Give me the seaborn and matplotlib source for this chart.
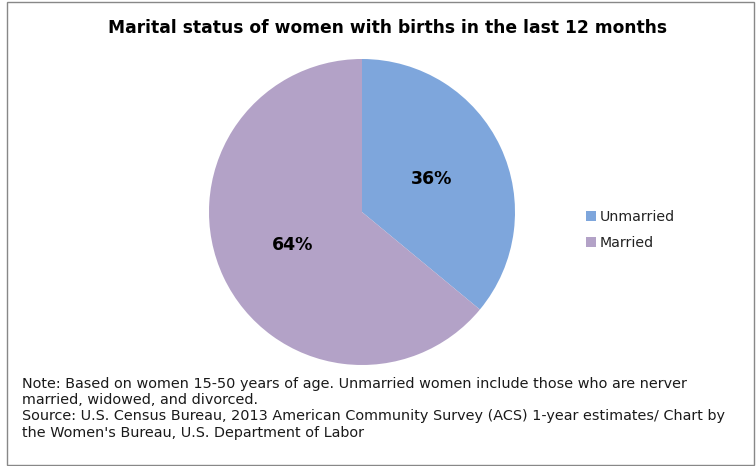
import matplotlib
matplotlib.use("Agg")
import matplotlib.pyplot as plt
import seaborn as sns
from matplotlib.patches import Rectangle

sns.set_theme(style="white")
plt.rcParams['font.family'] = ['DejaVu Sans']

# data
labels = ["Unmarried", "Married"]
shares = [36, 64]
colors = ["#7EA6DC", "#B3A2C7"]

title = "Marital status of women with births in the last 12 months"
note = ("Note: Based on women 15-50 years of age. Unmarried women include those who are nerver\n"
        "married, widowed, and divorced.\n"
        "Source: U.S. Census Bureau, 2013 American Community Survey (ACS) 1-year estimates/ Chart by\n"
        "the Women's Bureau, U.S. Department of Labor")

fig = plt.figure(figsize=(7.56, 4.66), dpi=100)
W, H = 756, 466

# pie axes positioned from pixel layout
cx, cy, r = 362, 212, 153
ax = fig.add_axes([(cx - r) / W, (H - cy - r) / H, 2 * r / W, 2 * r / H])
wedges, texts, autotexts = ax.pie(shares, colors=colors, startangle=90, counterclock=False,
                                  autopct='%d%%', pctdistance=0.5,
                                  wedgeprops=dict(linewidth=0),
                                  textprops=dict(fontsize=12.5, fontweight='bold', color='black'))
ax.set_xlim(-1, 1)
ax.set_ylim(-1, 1)
ax.set_aspect('equal')

fig.legend(wedges, labels, loc='upper left', bbox_to_anchor=(580 / W, 1 - 204 / H),
           frameon=False, fontsize=10.2, handlelength=0.7, handleheight=0.7,
           handletextpad=0.3, labelspacing=0.85, borderaxespad=0,
           labelcolor='#222222')

fig.text(388 / W, 1 - 28 / H, title, ha='center', va='center', fontsize=12.3, fontweight='bold',
         color='black')
fig.text(22 / W, 1 - 377 / H, note, ha='left', va='top', fontsize=10.4, linespacing=1.2,
         color='#1a1a1a')

fig.patches.append(Rectangle((7 / W, 1 / H), 747 / W, 463 / H, transform=fig.transFigure,
                             fill=False, edgecolor='#888888', linewidth=1))

fig.savefig("out.png", dpi=100)
